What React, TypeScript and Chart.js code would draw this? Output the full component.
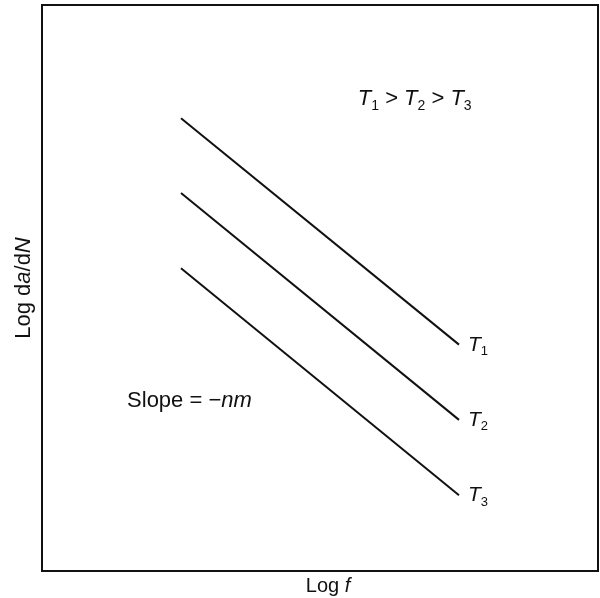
import React, { useEffect, useRef } from "react";
import { Chart, registerables } from "chart.js";

Chart.register(...registerables);

// Log f positions of the line ends (arbitrary log units)
const logF = [25, 75];
// Log da/dN at each end, one series per temperature
const seriesT1 = [80, 40];
const seriesT2 = [66.8, 26.7];
const seriesT3 = [53.5, 13.4];
const seriesNames = ["1", "2", "3"];

const FONT = '"Liberation Sans", Arial, Helvetica, sans-serif';
const INK = "#111";

type Seg = { t: string; it?: boolean; sub?: boolean };

function segFont(s: Seg, size: number) {
  const fs = s.sub ? Math.round(size * 0.64) : size;
  return `${s.it ? "italic " : ""}${fs}px ${FONT}`;
}

function richWidth(ctx: CanvasRenderingContext2D, segs: Seg[], size: number) {
  let w = 0;
  for (const s of segs) {
    ctx.font = segFont(s, size);
    w += ctx.measureText(s.t).width;
  }
  return w;
}

function drawRich(ctx: CanvasRenderingContext2D, segs: Seg[], x: number, y: number, size: number) {
  let cx = x;
  for (const s of segs) {
    ctx.font = segFont(s, size);
    ctx.fillText(s.t, cx, s.sub ? y + size * 0.22 : y);
    cx += ctx.measureText(s.t).width;
  }
}

const framePlugin = {
  id: "frameAndText",
  afterDraw(chart: any) {
    const { ctx, chartArea } = chart;
    const xs = chart.scales.x;
    const ys = chart.scales.y;
    ctx.save();
    ctx.strokeStyle = INK;
    ctx.lineWidth = 2;
    ctx.strokeRect(chartArea.left, chartArea.top, chartArea.right - chartArea.left, chartArea.bottom - chartArea.top);

    ctx.fillStyle = INK;
    ctx.textBaseline = "alphabetic";
    ctx.textAlign = "left";

    // end labels T1, T2, T3
    const ends = [seriesT1, seriesT2, seriesT3];
    ends.forEach((arr, i) => {
      const px = xs.getPixelForValue(logF[1]);
      const py = ys.getPixelForValue(arr[1]);
      drawRich(ctx, [{ t: "T", it: true }, { t: seriesNames[i], sub: true }], px + 9, py + 6, 21);
    });

    // ordering note
    const order: Seg[] = [
      { t: "T", it: true }, { t: "1", sub: true }, { t: " > " },
      { t: "T", it: true }, { t: "2", sub: true }, { t: " > " },
      { t: "T", it: true }, { t: "3", sub: true },
    ];
    drawRich(ctx, order, xs.getPixelForValue(56.8), ys.getPixelForValue(82.3), 22);

    // slope note
    const slope: Seg[] = [{ t: "Slope = \u2212" }, { t: "nm", it: true }];
    drawRich(ctx, slope, xs.getPixelForValue(15.3), ys.getPixelForValue(29), 22);

    // x-axis title
    const xt: Seg[] = [{ t: "Log " }, { t: "f", it: true }];
    const xw = richWidth(ctx, xt, 20);
    drawRich(ctx, xt, (chartArea.left + chartArea.right) / 2 + 8 - xw / 2, chartArea.bottom + 21, 20);

    // y-axis title
    const yt: Seg[] = [{ t: "Log d" }, { t: "a", it: true }, { t: "/d" }, { t: "N", it: true }];
    const yw = richWidth(ctx, yt, 22);
    ctx.translate(chartArea.left - 12, (chartArea.top + chartArea.bottom) / 2);
    ctx.rotate(-Math.PI / 2);
    drawRich(ctx, yt, -yw / 2, 0, 22);
    ctx.restore();
  },
};

export default function App() {
  const ref = useRef<HTMLCanvasElement | null>(null);

  useEffect(() => {
    document.body.style.margin = "0";
    const mk = (vals: number[]) => ({
      data: logF.map((x, i) => ({ x, y: vals[i] })),
      borderColor: INK,
      borderWidth: 2,
      pointRadius: 0,
      fill: false,
    });
    const chart = new Chart(ref.current as HTMLCanvasElement, {
      type: "line",
      data: { datasets: [mk(seriesT1), mk(seriesT2), mk(seriesT3)] },
      options: {
        animation: false,
        responsive: false,
        layout: { padding: { left: 42, top: 5, right: 2, bottom: 27 } },
        plugins: { legend: { display: false }, tooltip: { enabled: false } },
        scales: {
          x: { type: "linear", min: 0, max: 100, display: false },
          y: { type: "linear", min: 0, max: 100, display: false },
        },
      },
      plugins: [framePlugin],
    });
    return () => chart.destroy();
  }, []);

  return (
    <div style={{ width: 600, height: 598, background: "#fff" }}>
      <canvas ref={ref} width={600} height={598} />
    </div>
  );
}
